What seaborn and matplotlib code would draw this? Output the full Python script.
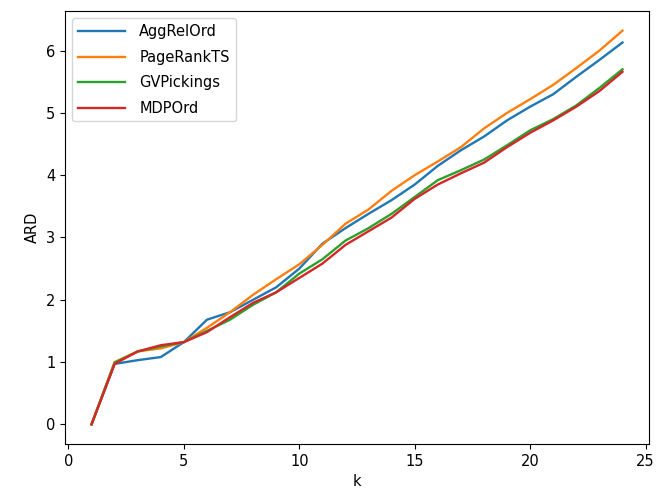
import numpy as np
import pandas as pd
import seaborn as sns
import matplotlib.pyplot as plt

# ARD vs k for the four ordering methods
k = list(range(1, 25))
agg_rel_ord = [0.0, 0.97, 1.03, 1.08, 1.32, 1.68, 1.80, 2.00, 2.20, 2.50, 2.90, 3.15,
               3.38, 3.60, 3.85, 4.15, 4.40, 4.62, 4.88, 5.10, 5.30, 5.58, 5.85, 6.13]
page_rank_ts = [0.0, 1.00, 1.17, 1.22, 1.32, 1.55, 1.80, 2.08, 2.33, 2.57, 2.88, 3.22,
                3.45, 3.75, 4.00, 4.22, 4.45, 4.75, 5.00, 5.22, 5.45, 5.72, 6.00, 6.32]
gv_pickings = [0.0, 0.99, 1.17, 1.25, 1.32, 1.50, 1.68, 1.92, 2.12, 2.42, 2.65, 2.95,
               3.15, 3.38, 3.65, 3.92, 4.08, 4.25, 4.48, 4.72, 4.90, 5.12, 5.40, 5.70]
mdp_ord = [0.0, 0.97, 1.17, 1.27, 1.32, 1.48, 1.72, 1.95, 2.12, 2.35, 2.58, 2.88,
           3.10, 3.32, 3.62, 3.85, 4.03, 4.20, 4.45, 4.68, 4.88, 5.10, 5.35, 5.66]

methods = ["AggRelOrd", "PageRankTS", "GVPickings", "MDPOrd"]
series = [agg_rel_ord, page_rank_ts, gv_pickings, mdp_ord]

df = pd.concat(
    [pd.DataFrame({"k": k, "ARD": vals, "method": name}) for name, vals in zip(methods, series)],
    ignore_index=True,
)

plt.rcParams["font.size"] = 10.5
fig, ax = plt.subplots(figsize=(6.68, 4.93), dpi=100)
fig.subplots_adjust(left=0.0973, right=0.9716, top=0.9777, bottom=0.0994)

sns.lineplot(data=df, x="k", y="ARD", hue="method", hue_order=methods,
             palette=sns.color_palette("tab10", 4), linewidth=1.7, ax=ax)

ax.set_xticks([0, 5, 10, 15, 20, 25])
ax.set_xlabel("k")
ax.set_ylabel("ARD")
ax.legend(loc="upper left", title=None, fontsize=10.5,
          handlelength=3.2, handletextpad=1.0, labelspacing=0.72)

plt.savefig("out.png", dpi=100)
plt.close()
